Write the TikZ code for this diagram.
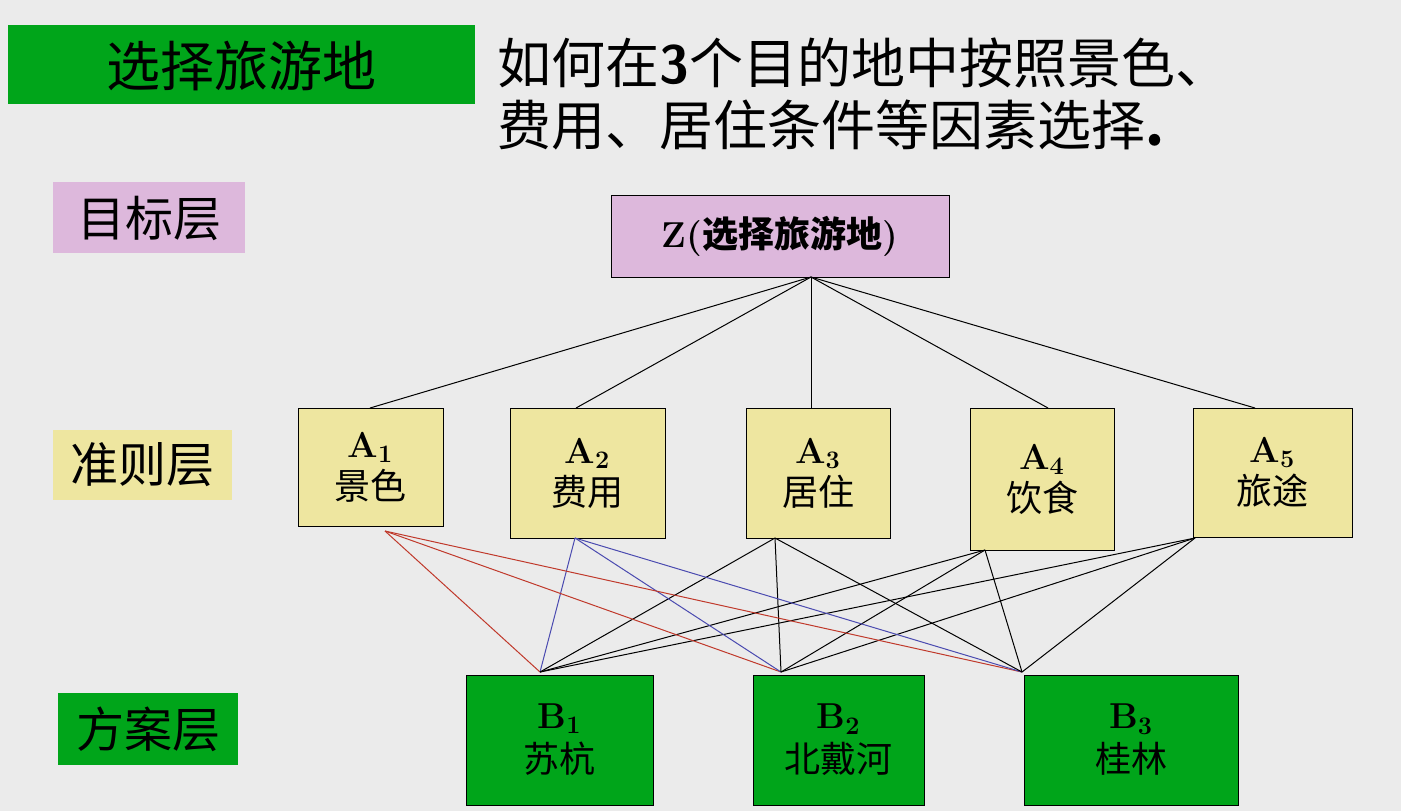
\documentclass[tikz,border=0pt]{standalone}
\usepackage{fontspec}
\newfontfamily\cjk{Noto Sans CJK SC}
\newfontfamily\cjkb{Noto Sans CJK SC Bold}
\definecolor{bg}{HTML}{EBEBEB}
\definecolor{gr}{HTML}{00A51A}
\definecolor{pk}{HTML}{DDB8DC}
\definecolor{yl}{HTML}{EEE6A0}
\definecolor{rd}{HTML}{C0392B}
\definecolor{bl}{HTML}{4A4AB0}
\begin{document}
\begin{tikzpicture}[x=0.5pt,y=-0.5pt,
 lab/.style={inner sep=0,font=\cjk\fontsize{24}{28}\selectfont},
 abox/.style={draw=black,fill=yl,line width=0.5pt,align=center,font=\fontsize{18}{21}\selectfont},
 bbox/.style={draw=black,fill=gr,line width=0.5pt,align=center,font=\fontsize{18}{22}\selectfont},
 ln/.style={line width=0.5pt}]
\fill[bg] (0,0) rectangle (1401,811);
\useasboundingbox (0,0) rectangle (1401,811);
\fill[gr] (8,25) rectangle (475,104);
\node[lab,font=\cjk\fontsize{27}{30}\selectfont] (title) at (241,66) {选择旅游地};
\node[inner sep=0,anchor=north west,align=left,font=\cjk\fontsize{27}{31}\selectfont] (q) at (497,37) {如何在{\sffamily\bfseries 3}个目的地中按照景色、\\费用、居住条件等因素选择{\bfseries.}};
\fill[pk] (53,182) rectangle (245,253); \node[lab] (l1) at (149,218) {目标层};
\fill[yl] (53,430) rectangle (232,500); \node[lab] (l2) at (142,465) {准则层};
\fill[gr] (58,693) rectangle (238,765); \node[lab] (l3) at (148,729) {方案层};
\node[draw=black,fill=pk,line width=0.5pt,minimum width=169pt,minimum height=41pt,font=\bfseries\fontsize{18}{21}\selectfont] (Z) at (780,236) {Z({\cjkb 选择旅游地})};
\path[abox] (298,408) rectangle (443,526) node[midway,draw=none,fill=none] (A1) {\textbf{A\textsubscript{1}}\\{\cjk 景色}};
\path[abox] (510,408) rectangle (665,538) node[midway,draw=none,fill=none] (A2) {\textbf{A\textsubscript{2}}\\{\cjk 费用}};
\path[abox] (746,408) rectangle (890,538) node[midway,draw=none,fill=none] (A3) {\textbf{A\textsubscript{3}}\\{\cjk 居住}};
\path[abox] (970,408) rectangle (1114,550) node[midway,draw=none,fill=none] (A4) {\textbf{A\textsubscript{4}}\\{\cjk 饮食}};
\path[abox] (1193,408) rectangle (1352,537) node[midway,draw=none,fill=none] (A5) {\textbf{A\textsubscript{5}}\\{\cjk 旅途}};
\path[bbox] (466,675) rectangle (653,805) node[midway,draw=none,fill=none] (B1) {\textbf{B\textsubscript{1}}\\{\cjk 苏杭}};
\path[bbox] (753,675) rectangle (924,805) node[midway,draw=none,fill=none] (B2) {\textbf{B\textsubscript{2}}\\{\cjk 北戴河}};
\path[bbox] (1024,675) rectangle (1238,805) node[midway,draw=none,fill=none] (B3) {\textbf{B\textsubscript{3}}\\{\cjk 桂林}};
\coordinate (zb) at (811,277);
\coordinate (a1t) at (370,408); \coordinate (a2t) at (576,408); \coordinate (a3t) at (811,408);
\coordinate (a4t) at (1048,408); \coordinate (a5t) at (1255,408);
\foreach \t in {a1t,a2t,a3t,a4t,a5t} \draw[ln] (zb) -- (\t);
\coordinate (b1t) at (540,672); \coordinate (b2t) at (781,672); \coordinate (b3t) at (1022,672);
\coordinate (a1b) at (385,531); \coordinate (a2b) at (575,538); \coordinate (a3b) at (775,538);
\coordinate (a4b) at (985,550); \coordinate (a5b) at (1195,538);
\foreach \b in {b1t,b2t,b3t}{
 \draw[ln,rd] (a1b) -- (\b);
 \draw[ln,bl] (a2b) -- (\b);
 \draw[ln] (a3b) -- (\b);
 \draw[ln] (a4b) -- (\b);
 \draw[ln] (a5b) -- (\b);}
\end{tikzpicture}
\end{document}
